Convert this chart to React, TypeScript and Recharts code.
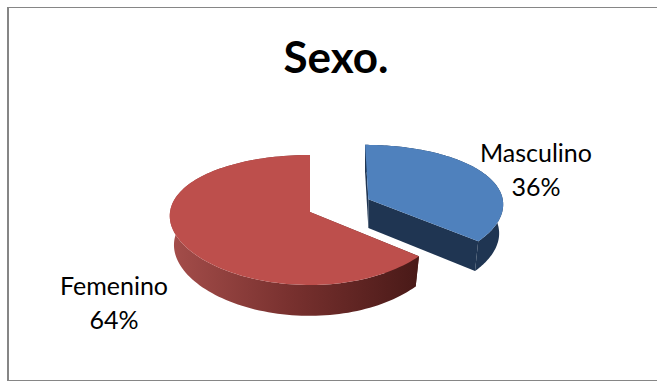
import { PieChart, Pie } from "recharts";

const names = ["Masculino", "Femenino"];
const values = [36, 64];
const explode = [0.48, 0];
const topColors = ["#4f81bd", "#bd4f4c"];
const wallFills = ["#1f3552", "url(#redWall)"];

const data = names.map((name, i) => ({ name, value: values[i] }));

const CX = 310;
const CY = 212;
const RX_LEFT = 140;
const RX_RIGHT = 136;
const RY = 64;
const DEPTH = 29;
const PERSPECTIVE_X = 0.06;
const PERSPECTIVE_Y = 0.123;

// perspective projection of a point on the pie's plane; z runs 0 (top) to 1 (base),
// and the base narrows toward the slice's own centre u0
function project(u: number, v: number, z: number, u0: number) {
  const sx = 1 / (1 - PERSPECTIVE_X * v);
  const sy = 1 / (1 - PERSPECTIVE_Y * v);
  const shrunkU = u0 + (u - u0) * (1 - 0.03 * z);
  const rx = shrunkU < 0 ? RX_LEFT : RX_RIGHT;
  return {
    x: CX + rx * shrunkU * sx,
    y: CY + RY * v * sy * (1 - 0.03 * z) + DEPTH * sy * z,
  };
}

function pathOf(points: { x: number; y: number }[]) {
  return points.map((p, i) => `${i ? "L" : "M"}${p.x.toFixed(2)} ${p.y.toFixed(2)}`).join(" ") + " Z";
}

function Slice3D(props: any) {
  const { startAngle, endAngle, index } = props;
  const rad = Math.PI / 180;
  const mid = ((startAngle + endAngle) / 2) * rad;
  const u0 = explode[index] * Math.cos(mid);
  const v0 = -explode[index] * Math.sin(mid);

  const rim = (z: number) => {
    const pts = [];
    const steps = 120;
    for (let k = 0; k <= steps; k++) {
      const a = (startAngle + ((endAngle - startAngle) * k) / steps) * rad;
      pts.push(project(u0 + Math.cos(a), v0 - Math.sin(a), z, u0));
    }
    return pts;
  };

  const top = rim(0);
  const base = rim(1);
  const apexTop = project(u0, v0, 0, u0);
  const apexBase = project(u0, v0, 1, u0);
  const last = top.length - 1;
  const wallFill = wallFills[index];

  return (
    <g>
      <path d={pathOf([apexTop, top[0], base[0], apexBase])} fill={wallFill} />
      <path d={pathOf([apexTop, top[last], base[last], apexBase])} fill={wallFill} />
      <path d={pathOf([...top, ...base.slice().reverse()])} fill={wallFill} />
      <path d={pathOf([apexTop, ...top])} fill={topColors[index]} />
    </g>
  );
}

function SliceLabel(props: any) {
  const { index, name, value } = props;
  const x = index === 0 ? 536 : 114;
  const y = index === 0 ? 162 : 295;
  return (
    <text x={x} y={y} textAnchor="middle" fontFamily="Lato, sans-serif" fontSize={25} fill="#000">
      <tspan x={x}>{name}</tspan>
      <tspan x={x} dy={34}>{value}%</tspan>
    </text>
  );
}

export default function App() {
  return (
    <div style={{ position: "absolute", left: 0, top: 0, width: 657, height: 381, background: "#fff", overflow: "hidden" }}>
      <div style={{ position: "absolute", left: 7, top: 7, width: 660, height: 372, border: "1px solid #868686", borderLeftWidth: 2 }} />
      <div
        style={{
          position: "absolute",
          left: 0,
          top: 26,
          width: 672,
          textAlign: "center",
          fontFamily: "Lato, sans-serif",
          fontWeight: 700,
          fontSize: 44,
          lineHeight: "60px",
          color: "#000",
        }}
      >
        Sexo.
      </div>
      <svg width={0} height={0} style={{ position: "absolute" }}>
        <defs>
          <linearGradient id="redWall" gradientUnits="userSpaceOnUse" x1={172} y1={0} x2={416} y2={0}>
            <stop offset="0" stopColor="#a44d4a" />
            <stop offset="0.5" stopColor="#77302e" />
            <stop offset="1" stopColor="#4a1a18" />
          </linearGradient>
        </defs>
      </svg>
      <div style={{ position: "absolute", left: 0, top: 0 }}>
        <PieChart width={657} height={381} margin={{ top: 0, right: 0, bottom: 0, left: 0 }}>
          <Pie
            data={data}
            dataKey="value"
            nameKey="name"
            cx={CX}
            cy={CY}
            outerRadius={RX_LEFT}
            startAngle={90}
            endAngle={-270}
            stroke="none"
            shape={Slice3D}
            label={SliceLabel}
            labelLine={false}
            isAnimationActive={false}
          />
        </PieChart>
      </div>
    </div>
  );
}
